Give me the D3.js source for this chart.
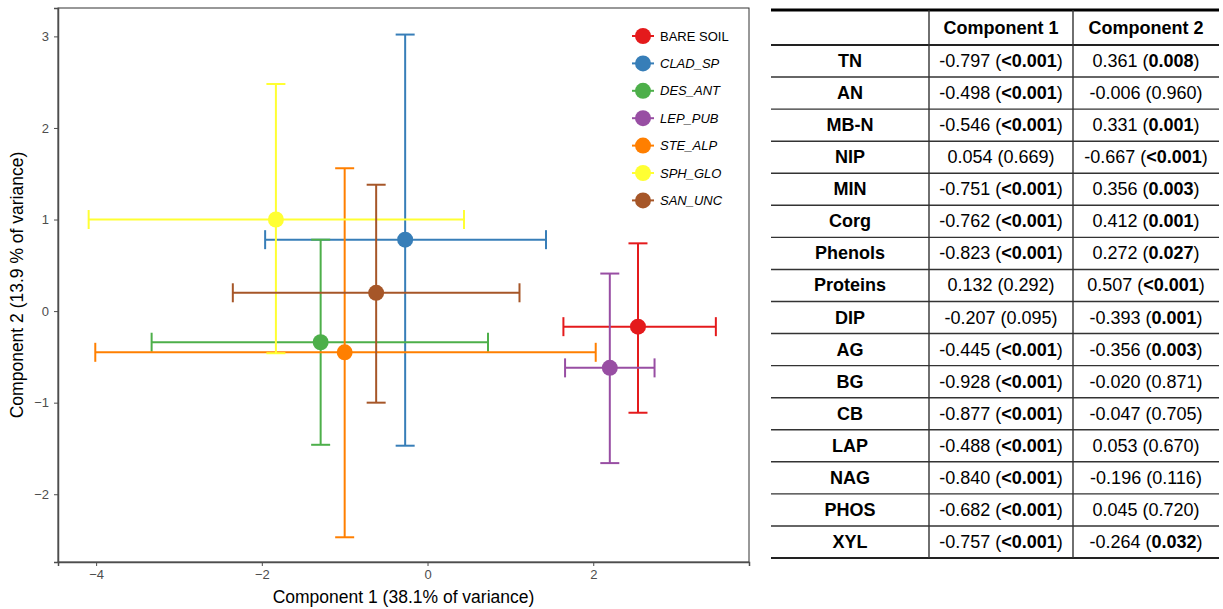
<!DOCTYPE html>
<html>
<head>
    <meta charset="utf-8">
    <title>PCA scores and loadings</title>
    <script src="https://cdn.jsdelivr.net/npm/d3@7"></script>
    <style>
        body { margin: 0; background: #fff; }
        svg { display: block; }
        .tbl text { font-family: "Liberation Sans", Arial, sans-serif; font-size: 18px; fill: #000; }
    </style>
</head>
<body>
<svg width="1223" height="609"></svg>
<script>

var groups = ['BARE SOIL', 'CLAD_SP', 'DES_ANT', 'LEP_PUB', 'STE_ALP', 'SPH_GLO', 'SAN_UNC'],
    colors = ['#E41A1C', '#377EB8', '#4DAF4A', '#984EA3', '#FF7F00', '#FFFF33', '#A65628'],
    meanX = [2.54, -0.27, -1.29, 2.20, -1.00, -1.83, -0.62],
    meanY = [-0.17, 0.78, -0.34, -0.62, -0.45, 1.00, 0.20],
    lowX = [1.64, -1.96, -3.33, 1.66, -4.01, -4.09, -2.35],
    highX = [3.48, 1.43, 0.73, 2.74, 2.03, 0.44, 1.11],
    lowY = [-1.11, -1.47, -1.46, -1.66, -2.47, -0.46, -1.00],
    highY = [0.74, 3.02, 0.78, 0.41, 1.56, 2.48, 1.38];

var xTicks = [-4, -2, 0, 2],
    yTicks = [-2, -1, 0, 1, 2, 3];

var variables = ['TN', 'AN', 'MB-N', 'NIP', 'MIN', 'Corg', 'Phenols', 'Proteins', 'DIP', 'AG', 'BG', 'CB', 'LAP', 'NAG', 'PHOS', 'XYL'],
    comp1 = ['-0.797', '-0.498', '-0.546', '0.054', '-0.751', '-0.762', '-0.823', '0.132', '-0.207', '-0.445', '-0.928', '-0.877', '-0.488', '-0.840', '-0.682', '-0.757'],
    comp1P = ['<0.001', '<0.001', '<0.001', '0.669', '<0.001', '<0.001', '<0.001', '0.292', '0.095', '<0.001', '<0.001', '<0.001', '<0.001', '<0.001', '<0.001', '<0.001'],
    comp2 = ['0.361', '-0.006', '0.331', '-0.667', '0.356', '0.412', '0.272', '0.507', '-0.393', '-0.356', '-0.020', '-0.047', '0.053', '-0.196', '0.045', '-0.264'],
    comp2P = ['0.008', '0.960', '0.001', '<0.001', '0.003', '0.001', '0.027', '<0.001', '0.001', '0.003', '0.871', '0.705', '0.670', '0.116', '0.720', '0.032'];

var svg = d3.select('svg'),
    plotLeft = 58, plotRight = 749, plotTop = 8, plotBottom = 562;

var x = d3.scaleLinear().domain([-4.46, 3.88]).range([plotLeft, plotRight]),
    y = d3.scaleLinear().domain([-2.74, 3.31]).range([plotBottom, plotTop]);

// panel border
svg.append('rect')
    .attr('x', plotLeft).attr('y', plotTop)
    .attr('width', plotRight - plotLeft).attr('height', plotBottom - plotTop)
    .attr('fill', 'none').attr('stroke', '#333').attr('stroke-width', 1);

var xAxis = svg.append('g')
    .attr('transform', 'translate(0,' + plotBottom + ')')
    .call(d3.axisBottom(x).tickValues(xTicks).tickSize(4).tickPadding(4));
var yAxis = svg.append('g')
    .attr('transform', 'translate(' + plotLeft + ',0)')
    .call(d3.axisLeft(y).tickValues(yTicks).tickSize(4).tickPadding(5));
[xAxis, yAxis].forEach(function (a) {
    a.attr('font-family', '"Liberation Sans", Arial, sans-serif').attr('font-size', 13);
    a.select('.domain').attr('stroke', '#4d4d4d').attr('stroke-width', 1.5);
    a.selectAll('.tick line').attr('stroke', '#4d4d4d');
    a.selectAll('.tick text').attr('fill', '#4d4d4d')
        .text(function (d) { return d < 0 ? '\u2212' + Math.abs(d) : d; });
});

svg.append('text')
    .attr('x', (plotLeft + plotRight) / 2).attr('y', 603)
    .attr('text-anchor', 'middle')
    .style('font-family', '"Liberation Sans", Arial, sans-serif').style('font-size', '17.5px')
    .text('Component 1 (38.1% of variance)');
svg.append('text')
    .attr('transform', 'translate(23,' + (plotTop + plotBottom) / 2 + ') rotate(-90)')
    .attr('text-anchor', 'middle')
    .style('font-family', '"Liberation Sans", Arial, sans-serif').style('font-size', '17.5px')
    .text('Component 2 (13.9 % of variance)');

var data = groups.map(function (g, i) {
    return { g: g, c: colors[i], x: meanX[i], y: meanY[i], x0: lowX[i], x1: highX[i], y0: lowY[i], y1: highY[i] };
});

var cap = 9.5;
var bars = svg.append('g').selectAll('g').data(data).enter().append('g')
    .attr('stroke', function (d) { return d.c; })
    .attr('stroke-width', 2)
    .attr('fill', 'none');

bars.append('line')
    .attr('x1', function (d) { return x(d.x0); }).attr('x2', function (d) { return x(d.x1); })
    .attr('y1', function (d) { return y(d.y); }).attr('y2', function (d) { return y(d.y); });
bars.append('line')
    .attr('x1', function (d) { return x(d.x); }).attr('x2', function (d) { return x(d.x); })
    .attr('y1', function (d) { return y(d.y0); }).attr('y2', function (d) { return y(d.y1); });
['x0', 'x1'].forEach(function (k) {
    bars.append('line')
        .attr('x1', function (d) { return x(d[k]); }).attr('x2', function (d) { return x(d[k]); })
        .attr('y1', function (d) { return y(d.y) - cap; }).attr('y2', function (d) { return y(d.y) + cap; });
});
['y0', 'y1'].forEach(function (k) {
    bars.append('line')
        .attr('y1', function (d) { return y(d[k]); }).attr('y2', function (d) { return y(d[k]); })
        .attr('x1', function (d) { return x(d.x) - cap; }).attr('x2', function (d) { return x(d.x) + cap; });
});

svg.append('g').selectAll('circle').data(data).enter().append('circle')
    .attr('cx', function (d) { return x(d.x); })
    .attr('cy', function (d) { return y(d.y); })
    .attr('r', 8)
    .attr('fill', function (d) { return d.c; });

// legend
var legend = svg.append('g').selectAll('g').data(data).enter().append('g')
    .attr('transform', function (d, i) { return 'translate(643,' + (36 + i * 27.4) + ')'; });
legend.append('line')
    .attr('x1', -11).attr('x2', 11)
    .attr('stroke', function (d) { return d.c; }).attr('stroke-width', 2);
legend.append('circle')
    .attr('r', 8).attr('fill', function (d) { return d.c; });
legend.append('text')
    .attr('x', 17).attr('dy', '0.36em')
    .style('font-family', '"Liberation Sans", Arial, sans-serif').style('font-size', '13px')
    .style('font-style', function (d, i) { return i === 0 ? 'normal' : 'italic'; })
    .text(function (d) { return d.g; });

// loadings table
var tbl = svg.append('g').attr('class', 'tbl'),
    tLeft = 771, tRight = 1219, col1 = 929, col2 = 1073,
    tTop = 10, headBottom = 45, tBottom = 558,
    rowH = (tBottom - headBottom) / variables.length;

tbl.append('text').attr('x', (col1 + col2) / 2).attr('y', 34)
    .attr('text-anchor', 'middle').style('font-weight', 'bold').text('Component 1');
tbl.append('text').attr('x', (col2 + tRight) / 2).attr('y', 34)
    .attr('text-anchor', 'middle').style('font-weight', 'bold').text('Component 2');

function cell(cx, cy, val, p) {
    var t = tbl.append('text').attr('x', cx).attr('y', cy).attr('text-anchor', 'middle');
    t.append('tspan').text(val + ' (');
    t.append('tspan').style('font-weight', (p.charAt(0) === '<' || +p < 0.05) ? 'bold' : 'normal').text(p);
    t.append('tspan').text(')');
}

variables.forEach(function (v, i) {
    var cy = headBottom + rowH * (i + 0.5) + 6;
    tbl.append('text').attr('x', (tLeft + col1) / 2).attr('y', cy)
        .attr('text-anchor', 'middle').style('font-weight', 'bold').text(v);
    cell((col1 + col2) / 2, cy, comp1[i], comp1P[i]);
    cell((col2 + tRight) / 2, cy, comp2[i], comp2P[i]);
    if (i > 0) {
        tbl.append('line')
            .attr('x1', tLeft).attr('x2', tRight)
            .attr('y1', headBottom + rowH * i).attr('y2', headBottom + rowH * i)
            .attr('stroke', '#333').attr('stroke-width', 1.4);
    }
});

tbl.append('line').attr('x1', tLeft).attr('x2', tRight).attr('y1', tTop).attr('y2', tTop)
    .attr('stroke', '#000').attr('stroke-width', 3);
tbl.append('line').attr('x1', tLeft).attr('x2', tRight).attr('y1', headBottom).attr('y2', headBottom)
    .attr('stroke', '#222').attr('stroke-width', 2);
tbl.append('line').attr('x1', tLeft).attr('x2', tRight).attr('y1', tBottom).attr('y2', tBottom)
    .attr('stroke', '#222').attr('stroke-width', 2);
[col1, col2].forEach(function (cx) {
    tbl.append('line').attr('x1', cx).attr('x2', cx).attr('y1', tTop).attr('y2', tBottom)
        .attr('stroke', '#333').attr('stroke-width', 1.4);
});

</script>
</body>
</html>
